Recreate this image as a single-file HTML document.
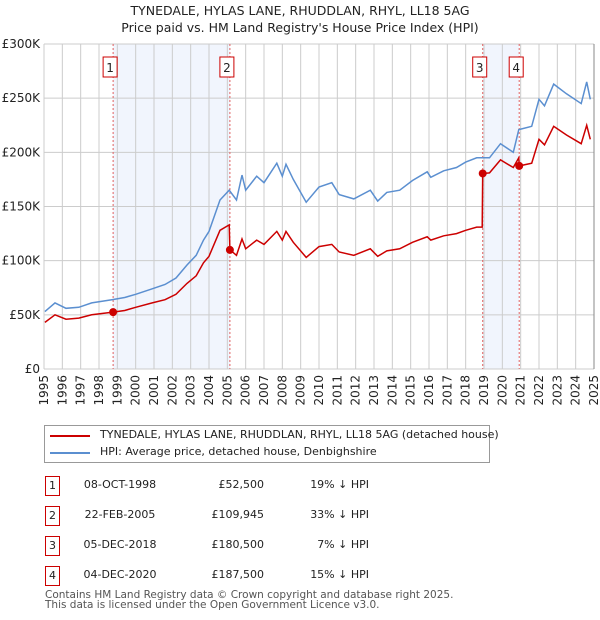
<!DOCTYPE html>
<html><head><meta charset="utf-8"><style>
body{margin:0;background:#fff;font-family:"DejaVu Sans","Liberation Sans",sans-serif;}
#wrap{position:relative;width:600px;height:620px;overflow:hidden;}
.t{position:absolute;font-size:11px;color:#222;white-space:nowrap;}
</style></head><body>
<div id="wrap">
<div class="t" style="left:0;width:600px;text-align:center;top:2px;font-size:12.5px;line-height:17px">TYNEDALE, HYLAS LANE, RHUDDLAN, RHYL, LL18 5AG<br>Price paid vs. HM Land Registry's House Price Index (HPI)</div>
<svg id="chart" width="600" height="420" style="position:absolute;left:0;top:0;font-family:'DejaVu Sans',sans-serif"></svg>
<div style="position:absolute;left:44px;top:425px;width:444px;height:36px;border:1px solid #999;background:#fff">
 <div style="position:absolute;left:5px;top:9px;width:40px;height:2px;background:#cc0000"></div>
 <div class="t" style="left:55px;top:2px">TYNEDALE, HYLAS LANE, RHUDDLAN, RHYL, LL18 5AG (detached house)</div>
 <div style="position:absolute;left:5px;top:26px;width:40px;height:2px;background:#5b8fd0"></div>
 <div class="t" style="left:55px;top:19px">HPI: Average price, detached house, Denbighshire</div>
</div>
<div id="table"></div>
<div class="t" style="left:45px;top:590px;line-height:10px;color:#555;font-size:10.5px">Contains HM Land Registry data © Crown copyright and database right 2025.<br>This data is licensed under the Open Government Licence v3.0.</div>
</div>
<script>
const hpiYears=[1995.05,1995.6,1996.2,1996.9,1997.6,1998.7,1999.4,2000,2000.9,2001.6,2002.2,2002.8,2003.3,2003.7,2004.0,2004.6,2005.1,2005.5,2005.8,2006.0,2006.6,2007.0,2007.7,2008.0,2008.2,2008.6,2009.3,2010.0,2010.7,2011.1,2011.9,2012.8,2013.2,2013.7,2014.4,2015.1,2015.9,2016.1,2016.8,2017.5,2018.0,2018.6,2019.3,2019.9,2020.6,2020.9,2021.6,2022.0,2022.3,2022.8,2023.5,2024.3,2024.6,2024.8];
const hpiValues=[53,61,56,57,61,64,66,69,74,78,84,96,105,119,127,156,165,156,179,165,178,172,190,178,189,175,154,168,172,161,157,165,155,163,165,174,182,177,183,186,191,195,195,208,200,221,224,249,243,263,254,245,265,249];
const redYears=[1995.05,1995.6,1996.2,1996.9,1997.6,1998.77,1999.4,2000,2000.9,2001.6,2002.2,2002.8,2003.3,2003.7,2004.0,2004.6,2005.1,2005.14,2005.5,2005.8,2006.0,2006.6,2007.0,2007.7,2008.0,2008.2,2008.6,2009.3,2010.0,2010.7,2011.1,2011.9,2012.8,2013.2,2013.7,2014.4,2015.1,2015.9,2016.1,2016.8,2017.5,2018.0,2018.6,2018.9,2018.93,2019.3,2019.9,2020.6,2020.9,2020.92,2021.6,2022.0,2022.3,2022.8,2023.5,2024.3,2024.6,2024.8];
const redValues=[43,50,46,47,50,52.5,54,57,61,64,69,79,86,98,104,128,133,110,105,120,111,119,115,127,119,127,117,103,113,115,108,105,111,104,109,111,117,122,119,123,125,128,131,131,180.5,181,193,186,195,187.5,190,212,207,224,216,208,225,212];
const saleYears=[1998.77,2005.14,2018.93,2020.92];
const salePrices=[52.5,109.945,180.5,187.5];
const saleLabels=["1","2","3","4"];
const saleDates=["08-OCT-1998","22-FEB-2005","05-DEC-2018","04-DEC-2020"];
const salePriceText=["£52,500","£109,945","£180,500","£187,500"];
const salePct=["19% ↓ HPI","33% ↓ HPI","7% ↓ HPI","15% ↓ HPI"];
const yTicks=[0,50,100,150,200,250,300];
const yTickLabels=["£0","£50K","£100K","£150K","£200K","£250K","£300K"];
const xTicks=[1995,1996,1997,1998,1999,2000,2001,2002,2003,2004,2005,2006,2007,2008,2009,2010,2011,2012,2013,2014,2015,2016,2017,2018,2019,2020,2021,2022,2023,2024,2025];

const X0=44,X1=594,Y0=369,Y1=44;
const xs=y=>X0+(y-1995)/30*(X1-X0);
const ys=v=>Y0-v/300*(Y0-Y1);
const svg=document.getElementById('chart');
const NS='http://www.w3.org/2000/svg';
function mk(tag,attrs,parent){const e=document.createElementNS(NS,tag);for(const k in attrs)e.setAttribute(k,attrs[k]);(parent||svg).appendChild(e);return e;}
for(let i=0;i<4;i+=2){
 const r=mk('rect',{x:xs(saleYears[i]),y:Y1,width:xs(saleYears[i+1])-xs(saleYears[i]),height:Y0-Y1,fill:'#eef3fd',opacity:0.8});
 
 
}
xTicks.forEach(t=>{
 const l=mk('line',{x1:xs(t),x2:xs(t),y1:Y1,y2:Y0,stroke:'#cccccc','stroke-width':1});
 
 
 const tx=mk('text',{x:0,y:0,'text-anchor':'end','font-size':12,fill:'#222',transform:'translate('+(xs(t)+4)+',375) rotate(-90)'});
 tx.textContent=t;
 
 
});
yTicks.forEach((t,i)=>{
 const l=mk('line',{x1:X0,x2:X1,y1:ys(t),y2:ys(t),stroke:'#cccccc','stroke-width':1});
 
 
 const tx=mk('text',{x:40,y:ys(t)+4,'text-anchor':'end','font-size':12,fill:'#222'});
 tx.textContent=yTickLabels[i];
 
 
});
saleYears.forEach((s,i)=>{
 const l=mk('line',{x1:xs(s),x2:xs(s),y1:Y1,y2:Y0,stroke:'#e06060','stroke-width':1,'stroke-dasharray':'2,2'});
 
 
 const g=mk('g',{});
 
 
 mk('rect',{x:xs(s)-10,y:57,width:14,height:20,fill:'#fff',stroke:'#cc0000'},g);
 const tx=mk('text',{x:xs(s)-3,y:72,'text-anchor':'middle','font-size':12,fill:'#222'},g);
 tx.textContent=saleLabels[i];
});
function path(xa,va){return xa.map((x,i)=>(i?'L':'M')+xs(x).toFixed(1)+','+ys(va[i]).toFixed(1)).join('');}
const hp=mk('path',{d:path(hpiYears,hpiValues),fill:'none',stroke:'#5b8fd0','stroke-width':1.5});


const rp=mk('path',{d:path(redYears,redValues),fill:'none',stroke:'#cc0000','stroke-width':1.5});


saleYears.forEach((s,i)=>{
 const c=mk('circle',{cx:xs(s),cy:ys(salePrices[i]),r:4,fill:'#cc0000'});
 
 
});
mk('line',{x1:X1,x2:X1,y1:Y1,y2:Y0,stroke:'#888','stroke-width':1});
const tb=document.getElementById('table');
const rowY=[476,506,536,566];
saleLabels.forEach((lb,i)=>{
 const row=document.createElement('div');
 
 
 row.style.cssText='position:absolute;left:0;top:'+rowY[i]+'px;width:600px;height:20px';
 row.innerHTML='<div class="t" style="left:45px;top:0;width:13px;height:18px;border:1px solid #cc0000;text-align:center;line-height:17px">'+lb+'</div>'+
 '<div class="t" style="left:80px;top:2px;width:80px;text-align:center">'+saleDates[i]+'</div>'+
 '<div class="t" style="left:180px;top:2px;width:84px;text-align:right">'+salePriceText[i]+'</div>'+
 '<div class="t" style="left:270px;top:2px;width:99px;text-align:right">'+salePct[i]+'</div>';
 tb.appendChild(row);
});
</script>
</body></html>
